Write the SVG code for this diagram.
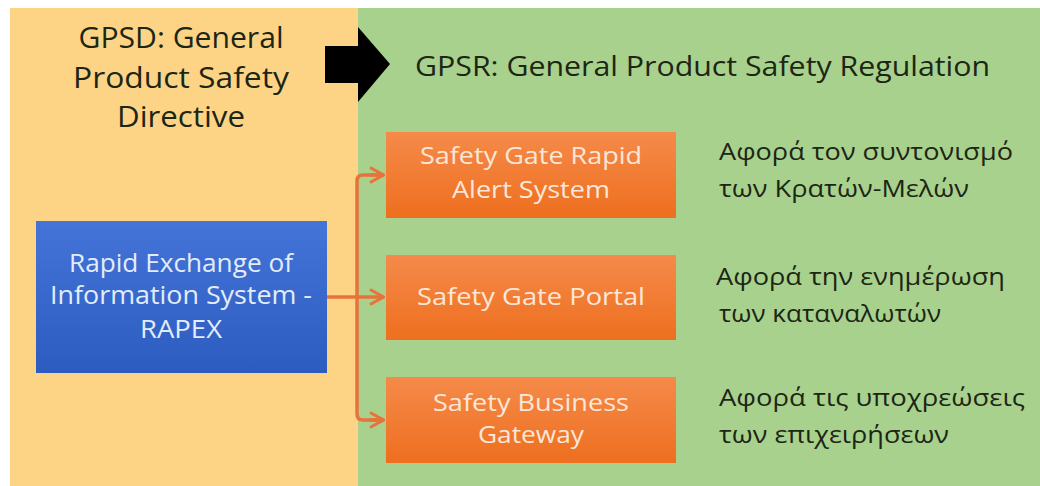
<svg xmlns="http://www.w3.org/2000/svg" width="1040" height="486" viewBox="0 0 1040 486">
<defs>
<linearGradient id="gOr" x1="0" y1="0" x2="0" y2="1"><stop offset="0" stop-color="#f58a4a"/><stop offset="1" stop-color="#ee6f1f"/></linearGradient>
<linearGradient id="gBl" x1="0" y1="0" x2="0" y2="1"><stop offset="0" stop-color="#4574d8"/><stop offset="1" stop-color="#2c5cc0"/></linearGradient>
<marker id="chev" viewBox="0 0 16 18" refX="15" refY="9" markerWidth="16" markerHeight="18" markerUnits="userSpaceOnUse" orient="auto"><path d="M1,1.5 L14.5,9 L1,16.5" fill="none" stroke="#e8733a" stroke-width="3"/></marker>
<style>
.t{font-family:"Open Sans","Liberation Sans",sans-serif;}
.dk{fill:#1c2614;}
.wt{fill:#fbe7d9;}
.bw{fill:#e3ecfb;}
.ln{fill:none;stroke:#e8733a;stroke-width:3.5;}
</style>
</defs>
<rect width="1040" height="486" fill="#ffffff"/>
<rect x="10" y="8" width="348" height="478" fill="#fdd486"/>
<rect x="358" y="8" width="682" height="478" fill="#a9d18e"/>
<g id="title-left">
<text class="t dk" x="181" y="48" font-size="29" text-anchor="middle" textLength="205" lengthAdjust="spacingAndGlyphs">GPSD: General</text>
<text class="t dk" x="181" y="88" font-size="29" text-anchor="middle" textLength="216" lengthAdjust="spacingAndGlyphs">Product Safety</text>
<text class="t dk" x="181" y="127" font-size="29" text-anchor="middle" textLength="128" lengthAdjust="spacingAndGlyphs">Directive</text>
</g>
<g id="big-arrow">
<path d="M325,46 L358,46 L358,27 L390,64 L358,102 L358,83 L325,83 Z" fill="#000000"/>
</g>
<g id="title-right">
<text class="t dk" x="415" y="76" font-size="28" textLength="575" lengthAdjust="spacingAndGlyphs">GPSR: General Product Safety Regulation</text>
</g>
<g id="rapex">
<rect x="36" y="221" width="291" height="152" fill="url(#gBl)"/>
<text class="t bw" x="181" y="272" font-size="25" text-anchor="middle" textLength="224" lengthAdjust="spacingAndGlyphs">Rapid Exchange of</text>
<text class="t bw" x="181" y="304" font-size="25" text-anchor="middle" textLength="262" lengthAdjust="spacingAndGlyphs">Information System -</text>
<text class="t bw" x="181" y="338" font-size="25" text-anchor="middle" textLength="82" lengthAdjust="spacingAndGlyphs">RAPEX</text>
</g>
<g id="connectors">
<path class="ln" d="M327,297 L384,297" marker-end="url(#chev)"/>
<path class="ln" d="M384,175 L363,175 Q357,175 357,181 L357,414 Q357,420 363,420 L384,420"/>
<path class="ln" d="M370,175 L384,175" marker-end="url(#chev)"/>
<path class="ln" d="M370,420 L384,420" marker-end="url(#chev)"/>
</g>
<g id="box-rapid">
<rect x="386" y="132" width="290" height="86" fill="url(#gOr)"/>
<text class="t wt" x="531" y="164" font-size="24" text-anchor="middle" textLength="222" lengthAdjust="spacingAndGlyphs">Safety Gate Rapid</text>
<text class="t wt" x="531" y="198" font-size="24" text-anchor="middle" textLength="158" lengthAdjust="spacingAndGlyphs">Alert System</text>
</g>
<g id="box-portal">
<rect x="386" y="255" width="290" height="85" fill="url(#gOr)"/>
<text class="t wt" x="531" y="305" font-size="24" text-anchor="middle" textLength="228" lengthAdjust="spacingAndGlyphs">Safety Gate Portal</text>
</g>
<g id="box-business">
<rect x="386" y="377" width="290" height="86" fill="url(#gOr)"/>
<text class="t wt" x="531" y="411" font-size="24" text-anchor="middle" textLength="196" lengthAdjust="spacingAndGlyphs">Safety Business</text>
<text class="t wt" x="531" y="443" font-size="24" text-anchor="middle" textLength="106" lengthAdjust="spacingAndGlyphs">Gateway</text>
</g>
<g id="desc-1">
<text class="t dk" x="719" y="160" font-size="24" textLength="294" lengthAdjust="spacingAndGlyphs">Αφορά τον συντονισμό</text>
<text class="t dk" x="719" y="197" font-size="24" textLength="250" lengthAdjust="spacingAndGlyphs">των Κρατών-Μελών</text>
</g>
<g id="desc-2">
<text class="t dk" x="716" y="285" font-size="24" textLength="289" lengthAdjust="spacingAndGlyphs">Αφορά την ενημέρωση</text>
<text class="t dk" x="719" y="322" font-size="24" textLength="222" lengthAdjust="spacingAndGlyphs">των καταναλωτών</text>
</g>
<g id="desc-3">
<text class="t dk" x="719" y="406" font-size="24" textLength="306" lengthAdjust="spacingAndGlyphs">Αφορά τις υποχρεώσεις</text>
<text class="t dk" x="719" y="443" font-size="24" textLength="230" lengthAdjust="spacingAndGlyphs">των επιχειρήσεων</text>
</g>
</svg>
